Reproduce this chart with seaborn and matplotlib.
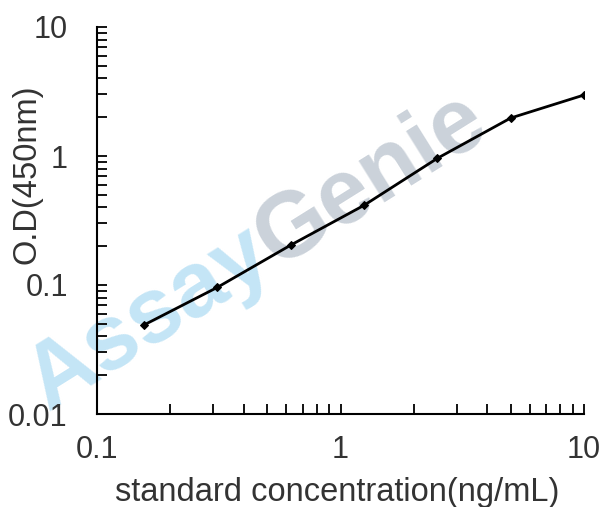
import matplotlib
matplotlib.use("Agg")
import matplotlib.pyplot as plt
import matplotlib.ticker as mticker
import seaborn as sns
import pandas as pd

# ── DATA ─────────────────────────────────────────────────
concentration = [0.156, 0.3125, 0.625, 1.25, 2.5, 5, 10]
od_450 = [0.049, 0.096, 0.204, 0.415, 0.96, 1.97, 2.97]
x_ticks = [0.1, 1, 10]
x_tick_labels = ["0.1", "1", "10"]
y_ticks = [0.01, 0.1, 1, 10]
y_tick_labels = ["0.01", "0.1", "1", "10"]

df = pd.DataFrame({"conc": concentration, "od": od_450})

# ── STYLE ────────────────────────────────────────────────
sns.set_theme(style="white")
plt.rcParams["font.family"] = ["Liberation Sans", "DejaVu Sans"]

fig = plt.figure(figsize=(6.08, 5.07), dpi=100)
ax = fig.add_axes([97 / 608, 93 / 507, 487 / 608, 387 / 507])
ax.set_zorder(2)
ax.patch.set_alpha(0)

# watermark (behind the axes)
wx, wy = 276 / 608, 1 - 268 / 507
fig.text(wx, wy, "Assay", fontsize=66, fontweight="bold", color="#c4e5f6",
         rotation=32, rotation_mode="anchor", ha="right", va="baseline",
         zorder=0)
fig.text(wx, wy, "Genie", fontsize=66, fontweight="bold", color="#cbd2da",
         rotation=32, rotation_mode="anchor", ha="left", va="baseline",
         zorder=0)

sns.lineplot(data=df, x="conc", y="od", ax=ax, color="black", linewidth=2,
             marker="D", markersize=4, markeredgecolor="black")

ax.set_xscale("log")
ax.set_yscale("log")
ax.set_xlim(0.1, 10)
ax.set_ylim(0.01, 10)

ax.set_xticks(x_ticks)
ax.set_xticklabels(x_tick_labels)
ax.set_yticks(y_ticks)
ax.set_yticklabels(y_tick_labels)
ax.xaxis.set_minor_locator(mticker.LogLocator(base=10, subs=range(2, 10)))
ax.yaxis.set_minor_locator(mticker.LogLocator(base=10, subs=range(2, 10)))
ax.xaxis.set_minor_formatter(mticker.NullFormatter())
ax.yaxis.set_minor_formatter(mticker.NullFormatter())

ax.tick_params(which="both", direction="in", length=7, width=1.3,
               color="black", labelsize=22, labelcolor="#333333")
ax.tick_params(axis="x", which="both", bottom=True, pad=15)
ax.tick_params(axis="y", which="both", left=True, pad=21)

for side in ["top", "right"]:
    ax.spines[side].set_visible(False)
for side in ["left", "bottom"]:
    ax.spines[side].set_color("black")
    ax.spines[side].set_linewidth(1.5)

ax.set_xlabel("standard concentration(ng/mL)", fontsize=23.5, color="#333333")
ax.set_ylabel("O.D(450nm)", fontsize=23.5, color="#333333")
ax.xaxis.set_label_coords(0.493, -0.163)
ax.yaxis.set_label_coords(-0.111, 0.62)

plt.savefig("out.png", dpi=100)
plt.close()
